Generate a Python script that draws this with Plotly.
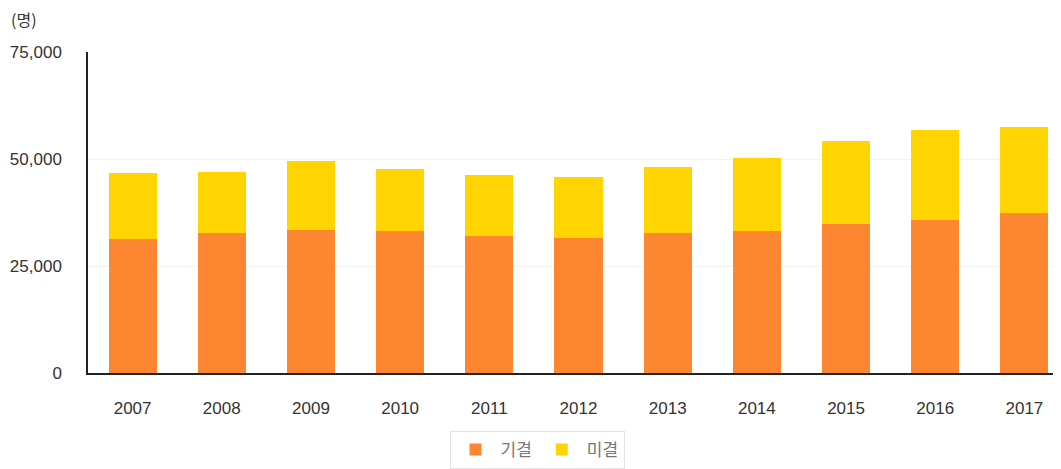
import plotly.graph_objects as go

years = ["2007", "2008", "2009", "2010", "2011", "2012", "2013", "2014", "2015", "2016", "2017"]
decided = [31200, 32800, 33400, 33200, 32000, 31600, 32600, 33200, 34900, 35700, 37300]
totals = [46700, 47000, 49500, 47700, 46300, 45700, 48100, 50300, 54100, 56800, 57500]
pending = [t - d for t, d in zip(totals, decided)]
series_names = ["기결", "미결"]
y_ticks = [0, 25000, 50000, 75000]

font_family = "Liberation Sans, Noto Sans CJK KR, sans-serif"

fig = go.Figure()
fig.add_trace(go.Bar(x=years, y=decided, name=series_names[0],
                     marker=dict(color="#FD8630", line=dict(width=0))))
fig.add_trace(go.Bar(x=years, y=pending, name=series_names[1],
                     marker=dict(color="#FFD400", line=dict(width=0))))

fig.update_layout(
    barmode="stack",
    bargap=0.46,
    width=1061, height=469,
    margin=dict(l=80, r=0, t=44, b=104),
    paper_bgcolor="white", plot_bgcolor="white",
    font=dict(family=font_family, size=17, color="#333333"),
    showlegend=True,
    legend=dict(orientation="h", xref="container", yref="container",
                x=0.4986, y=0.098, xanchor="center", yanchor="top",
                bordercolor="#e3e3e3", borderwidth=1,
                font=dict(family="Noto Sans CJK KR, sans-serif", size=17, color="#777777"),
                itemwidth=40, traceorder="normal"),
    xaxis=dict(showline=True, linecolor="#222222", linewidth=1.5, automargin=False,
               showgrid=False, ticks="", tickfont=dict(size=17, color="#333333"),
               ticklabelstandoff=19),
    yaxis=dict(range=[0, 75000], tickvals=y_ticks, tickformat=",", automargin=False,
               showline=True, linecolor="#222222", linewidth=1.5,
               showgrid=True, gridcolor="#f2f2f2", gridwidth=1,
               zeroline=False, ticks="", ticklabelstandoff=21,
               tickfont=dict(size=17, color="#333333")),
    annotations=[dict(text="(명)", xref="paper", yref="paper", x=0, y=(373 - 19) / 321,
                      xshift=-79, xanchor="left", yanchor="middle", showarrow=False,
                      font=dict(family="Noto Sans CJK KR, sans-serif", size=16, color="#333333"))],
)

fig.write_html("out.html")
